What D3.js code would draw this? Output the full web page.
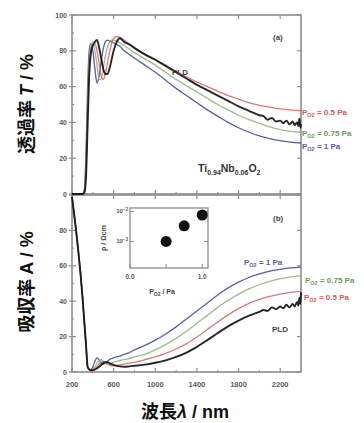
<!DOCTYPE html>
<html><head><meta charset="utf-8">
<script src="https://cdn.jsdelivr.net/npm/d3@7"></script>
<style>body{margin:0;background:#fff}</style>
</head><body>
<svg id="c" width="364" height="423"></svg>
<script>
// ---------- data ----------
const wl = [200,300,320,335,350,365,380,400,420,440,460,480,500,520,540,560,580,600,630,660,700,750,800,900,1000,1100,1200,1300,1400,1500,1600,1700,1800,1900,2000,2100,2200,2300,2400];
// transmittance (%)
const T_1Pa  = [0,0,3,25,60,80,84,80,70,62,66,74,81,85,86,85.5,85,84.5,83.5,82.5,80,78,76,72,68,63.5,59,55,51,47,43.5,40,37,34.5,32.5,31,29.8,29,28.5];
const T_075Pa= [0,0,2,18,50,74,82,85,80,72,64,64,70,77,82,85,86,86,85.5,84.5,83,81,79,75.5,72,68,64,60.5,57,53.5,50,47,44,41.5,39.5,37.5,36,35,34.5];
const T_05Pa = [0,0,1.5,14,44,70,80,83,84,80,73,66,64,67,73,79,84,87,88,87.5,86,84,82,78,75,72,68.5,65.5,62.5,60,57.5,55,53,51,49.5,48.5,47.5,47,46.5];
// absorbance (%)
const A_1Pa  = [99,43,27,15,3,1.5,1.5,3,6,8,7,5,4.5,5,6,7,7.5,8,8.5,9,10,11,12.5,15,18,21.5,25.5,30,34.5,39,43.5,47.5,50.8,53.4,55.4,57,58,58.8,59.3];
const A_075Pa= [99,43,27,15,3,1.5,1,2,3,5,6.5,7,6,5,4.5,4.5,5,5.5,6,6.5,7,7.5,8.5,10,12.5,15.5,19,23,27.5,32,36.5,40.5,44,47,49.3,51.2,52.7,53.8,54.5];
const A_05Pa = [99,43,27,15,3,1.5,1,1.5,2,3,4.5,5.5,6,5.5,4.5,4,3.5,3.5,3.8,4,4.5,5,5.5,7,8.5,10.5,13,16,19.8,24,28.3,32.3,35.8,38.8,41,42.7,44,45,45.5];
// PLD film (own sampling, noisy tail)
const wlPLD = [200,300,320,335,350,365,380,400,420,440,460,480,500,520,540,560,580,600,630,660,700,750,800,900,1000,1100,1200,1300,1400,1500,1600,1700,1800,1900,2000,2040,2080,2120,2160,2200,2230,2260,2290,2320,2340,2360,2375,2385,2395,2400];
const T_PLD  = [0,0,1,10,38,66,78,83,85,86,82,76,70,67,67,70,75,80,85,87,85,83.5,81.5,78,75,71.5,68,64.5,61,58,55,52,49,46.5,44,43.5,41.5,42.5,40.5,41,39.5,41,39,40.5,38.5,40,38,42,37,39];
const A_PLD  = [99,43,27,15,3,1.5,1,1,1.5,2,3,4,5,5.5,5.5,5,4.5,4,3.5,3.2,3,3.2,3.5,4.2,5.2,6.6,8.5,11,14.2,18,22,25.8,29,31.8,34,35,34.5,36.5,35.5,37,36,38,36.5,38.5,37,39.5,37.5,42,38.5,45];
// inset: resistivity vs O2 pressure
const insetP   = [0.5, 0.75, 1.0];
const insetRho = [1.0e-3, 3.3e-3, 7.6e-3];
const xTicks = [200,600,1000,1400,1800,2200];
const yTicks = [0,20,40,60,80,100];

// ---------- drawing ----------
const svg = d3.select('#c');
const FONT = '"Liberation Sans", Arial, sans-serif';
const CJK = '"Noto Sans CJK JP", sans-serif';
const col = {b:'#4a4a9e', g:'#93b37c', r:'#d56b6b', k:'#111'};
const labCol = {b:'#5a5aa8', g:'#6f9a5c', r:'#d35a5a', k:'#444'};
const frameCol = '#8c8c8c', tickTxt = '#5a5a5a';

const x = d3.scaleLinear().domain([200,2400]).range([72,301]);
const yA = d3.scaleLinear().domain([0,100]).range([194,15]);
const yB = d3.scaleLinear().domain([0,100]).range([372,195]);

function frame(y){
  const g = svg.append('g');
  g.append('rect').attr('x',x.range()[0]).attr('y',y.range()[1]).attr('width',x.range()[1]-x.range()[0]).attr('height',y.range()[0]-y.range()[1])
    .attr('fill','none').attr('stroke',frameCol).attr('stroke-width',1.6);
  yTicks.forEach(v=>{
    g.append('line').attr('x1',x.range()[0]-3).attr('x2',x.range()[0]+4).attr('y1',y(v)).attr('y2',y(v)).attr('stroke',frameCol).attr('stroke-width',1.2);
    g.append('line').attr('x1',x.range()[1]-4).attr('x2',x.range()[1]).attr('y1',y(v)).attr('y2',y(v)).attr('stroke',frameCol).attr('stroke-width',1.2);
  });
  d3.range(10,100,20).forEach(v=>{
    g.append('line').attr('x1',x.range()[0]).attr('x2',x.range()[0]+2).attr('y1',y(v)).attr('y2',y(v)).attr('stroke',frameCol);
  });
  xTicks.forEach(v=>{
    g.append('line').attr('x1',x(v)).attr('x2',x(v)).attr('y1',y.range()[0]).attr('y2',y.range()[0]-4).attr('stroke',frameCol).attr('stroke-width',1.2);
    g.append('line').attr('x1',x(v)).attr('x2',x(v)).attr('y1',y.range()[1]).attr('y2',y.range()[1]+4).attr('stroke',frameCol).attr('stroke-width',1.2);
  });
  d3.range(400,2400,400).forEach(v=>{
    g.append('line').attr('x1',x(v)).attr('x2',x(v)).attr('y1',y.range()[0]).attr('y2',y.range()[0]-2).attr('stroke',frameCol);
  });
  return g;
}
frame(yA); frame(yB);

yTicks.forEach(v=>{
  svg.append('text').attr('x',67).attr('y',yA(v)+2.5).attr('text-anchor','end').attr('font-family',FONT).attr('font-weight','bold').attr('font-size',7).attr('fill',tickTxt).text(v);
  if(v<100) svg.append('text').attr('x',67).attr('y',yB(v)+2.5).attr('text-anchor','end').attr('font-family',FONT).attr('font-weight','bold').attr('font-size',7).attr('fill',tickTxt).text(v);
});
xTicks.forEach(v=>{
  svg.append('text').attr('x',x(v)).attr('y',387).attr('text-anchor','middle').attr('font-family',FONT).attr('font-weight','bold').attr('font-size',7.5).attr('fill',tickTxt).text(v);
});

const lineT = (arr,w)=>d3.line().x((d,i)=>x(w[i])).y(d=>yA(d)).curve(d3.curveMonotoneX)(arr);
const lineA = (arr,w)=>d3.line().x((d,i)=>x(w[i])).y(d=>yB(d)).curve(d3.curveMonotoneX)(arr);
const series = [
  {T:T_1Pa, A:A_1Pa, w:wl, c:col.b, sw:1.3},
  {T:T_075Pa, A:A_075Pa, w:wl, c:col.g, sw:1.3},
  {T:T_05Pa, A:A_05Pa, w:wl, c:col.r, sw:1.3},
  {T:T_PLD, A:A_PLD, w:wlPLD, c:col.k, sw:1.9}
];
series.forEach(s=>{
  svg.append('path').attr('d',lineT(s.T,s.w)).attr('fill','none').attr('stroke',s.c).attr('stroke-width',s.sw).attr('opacity',0.9);
  svg.append('path').attr('d',lineA(s.A,s.w)).attr('fill','none').attr('stroke',s.c).attr('stroke-width',s.sw).attr('opacity',0.9);
});

function pLabel(px,py,val,c){
  const t = svg.append('text').attr('x',px).attr('y',py).attr('font-family',FONT).attr('font-weight','bold').attr('font-size',8).attr('fill',c);
  t.append('tspan').text('P');
  t.append('tspan').attr('font-size',5.5).attr('dy',2).text('O2');
  t.append('tspan').attr('dy',-2).text(' = ' + val + ' Pa');
}
pLabel(302,115,'0.5',labCol.r);
pLabel(302,136,'0.75',labCol.g);
pLabel(302,149,'1',labCol.b);
pLabel(244,265,'1',labCol.b);
pLabel(305,283,'0.75',labCol.g);
pLabel(304,300,'0.5',labCol.r);

function txt(px,py,s,fs,c,anchor){
  return svg.append('text').attr('x',px).attr('y',py).attr('font-family',FONT).attr('font-weight','bold').attr('font-size',fs).attr('fill',c||'#333').attr('text-anchor',anchor||'start').text(s);
}
txt(172,75,'PLD',8,labCol.k);
txt(272,332,'PLD',8,labCol.k);
txt(273,40,'(a)',8,'#444');
txt(273,221,'(b)',8,'#444');

const comp = svg.append('text').attr('x',198).attr('y',172).attr('font-family',FONT).attr('font-weight','bold').attr('font-size',10.5).attr('fill','#333');
[['Ti',0],['0.94',1],['Nb',0],['0.06',1],['O',0],['2',1]].forEach(([s,sub],i,arr)=>{
  const prev = i>0?arr[i-1][1]:0;
  comp.append('tspan').attr('font-size',sub?7:10.5).attr('dy',(sub-prev)*3).text(s);
});

const ix = d3.scaleLinear().domain([0,1.08]).range([130,208]);
const iy = d3.scaleLog().domain([1.3e-4,1.3e-2]).range([268,208]);
svg.append('rect').attr('x',130).attr('y',208).attr('width',78).attr('height',60).attr('fill','#fff').attr('stroke',frameCol).attr('stroke-width',1.3);
[1e-3,1e-2].forEach(v=>{
  svg.append('line').attr('x1',130).attr('x2',134).attr('y1',iy(v)).attr('y2',iy(v)).attr('stroke',frameCol);
  svg.append('line').attr('x1',204).attr('x2',208).attr('y1',iy(v)).attr('y2',iy(v)).attr('stroke',frameCol);
});
[0,0.5,1.0].forEach(v=>{
  svg.append('line').attr('x1',ix(v)).attr('x2',ix(v)).attr('y1',268).attr('y2',264).attr('stroke',frameCol);
});
const sup = (px,py,e)=>{
  const t = svg.append('text').attr('x',px).attr('y',py).attr('text-anchor','end').attr('font-family',FONT).attr('font-weight','bold').attr('font-size',6).attr('fill',tickTxt);
  t.append('tspan').text('10');
  t.append('tspan').attr('font-size',4.5).attr('dy',-2.5).text(e);
};
sup(128,iy(1e-2)+2,'−2');
sup(128,iy(1e-3)+2,'−3');
txt(130,279,'0.0',6.5,tickTxt,'middle');
txt(ix(1.0),279,'1.0',6.5,tickTxt,'middle');
const il = svg.append('text').attr('x',162).attr('y',294).attr('text-anchor','middle').attr('font-family',FONT).attr('font-weight','bold').attr('font-size',7).attr('fill','#444');
il.append('tspan').text('P'); il.append('tspan').attr('font-size',5).attr('dy',2).text('O2'); il.append('tspan').attr('dy',-2).text(' / Pa');
svg.append('text').attr('transform','translate(106,238) rotate(-90)').attr('text-anchor','middle').attr('font-family',FONT).attr('font-weight','bold').attr('font-size',7).attr('fill','#444').text('ρ / Ωcm');
svg.selectAll('circle.ip').data(insetP).enter().append('circle').attr('cx',d=>ix(d)).attr('cy',(d,i)=>iy(insetRho[i])).attr('r',5.5).attr('fill','#111');

const ty = svg.append('text').attr('transform','translate(33,104) rotate(-90)').attr('text-anchor','middle').attr('font-family',CJK).attr('font-weight','bold').attr('font-size',18).attr('fill','#111');
ty.append('tspan').text('透過率 ');
ty.append('tspan').attr('font-style','italic').attr('font-family',FONT).text('T');
ty.append('tspan').attr('font-family',FONT).text(' / %');
const ta = svg.append('text').attr('transform','translate(33,282) rotate(-90)').attr('text-anchor','middle').attr('font-family',CJK).attr('font-weight','bold').attr('font-size',18).attr('fill','#111');
ta.append('tspan').text('吸収率 ');
ta.append('tspan').attr('font-family',FONT).text('A / %');
const tx = svg.append('text').attr('x',185).attr('y',418).attr('text-anchor','middle').attr('font-family',CJK).attr('font-weight','bold').attr('font-size',18).attr('fill','#111');
tx.append('tspan').text('波長');
tx.append('tspan').attr('font-style','italic').attr('font-family',FONT).text('λ');
tx.append('tspan').attr('font-family',FONT).text(' / nm');
</script>
</body></html>
